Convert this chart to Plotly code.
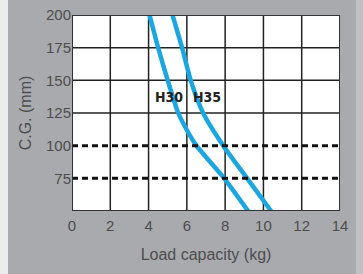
import plotly.graph_objects as go

# Data
h30_x = [4.05, 4.5, 5.0, 5.55, 6.0, 6.5, 7.95, 9.2]
h30_y = [200, 175, 150, 125, 112, 100, 75, 50]
h35_x = [5.25, 5.75, 6.2, 6.85, 7.9, 9.15, 10.4]
h35_y = [200, 175, 150, 125, 100, 75, 50]
solid_h = [125, 150, 175]
dotted_h = [75, 100]
vert_x = [2, 4, 6, 8, 10, 12]
x_ticks = [0, 2, 4, 6, 8, 10, 12, 14]
y_ticks = [75, 100, 125, 150, 175, 200]
labels = [("H30", 5.05, 137), ("H35", 7.05, 137)]

blue = "#1ca6df"
fig = go.Figure()
fig.add_trace(go.Scatter(x=h30_x, y=h30_y, mode="lines", line=dict(color=blue, width=4.5, shape="spline", smoothing=0.6), hoverinfo="skip"))
fig.add_trace(go.Scatter(x=h35_x, y=h35_y, mode="lines", line=dict(color=blue, width=4.5, shape="spline", smoothing=0.6), hoverinfo="skip"))

shapes = []
for v in vert_x:
    shapes.append(dict(type="line", xref="x", yref="y", x0=v, x1=v, y0=50, y1=200, line=dict(color="#222", width=1.5), layer="below"))
for h in solid_h:
    shapes.append(dict(type="line", xref="x", yref="y", x0=0, x1=14, y0=h, y1=h, line=dict(color="#222", width=1.5), layer="below"))
for h in dotted_h:
    shapes.append(dict(type="line", xref="x", yref="y", x0=0, x1=14, y0=h, y1=h, line=dict(color="#111", width=3, dash="6px,4px"), layer="above"))
shapes.append(dict(type="rect", xref="x", yref="y", x0=0, x1=14, y0=50, y1=200, line=dict(color="#333", width=2), layer="above"))
fig.update_layout(shapes=shapes)

for t, x, y in labels:
    fig.add_annotation(x=x, y=y, text="<b>%s</b>" % t, showarrow=False,
                       font=dict(family="Liberation Sans Narrow, DejaVu Sans Condensed", size=14, color="#222"))

fig.update_xaxes(range=[0, 14], tickvals=x_ticks, showgrid=False, zeroline=False, showline=False, automargin=False,
                 ticks="", ticklabelstandoff=4, tickfont=dict(family="Liberation Sans, Arial", size=15, color="#4d4d4d"),
                 title=dict(text="Load capacity (kg)", font=dict(family="Liberation Sans, Arial", size=16, color="#4d4d4d"), standoff=15))
fig.update_yaxes(range=[50, 200], tickvals=y_ticks, showgrid=False, zeroline=False, showline=False, automargin=False,
                 ticks="", tickfont=dict(family="Liberation Sans, Arial", size=15, color="#4d4d4d"),
                 title=dict(text="C.G. (mm)", font=dict(family="Liberation Sans, Arial", size=16, color="#4d4d4d"), standoff=10))
fig.update_layout(width=363, height=274, margin=dict(l=72, r=23, t=15, b=63),
                  paper_bgcolor="rgba(0,0,0,0)", plot_bgcolor="#ffffff", showlegend=False)
fig.write_html("out.html", config={"displayModeBar": False},
               post_script="document.body.style.margin='0';document.body.style.overflow='hidden';"
                           "document.body.style.background='linear-gradient(to right, #ececec 0px, #ececec 8px, #a9aaae 8px, #a9aaae 356px, #bfc0c3 356px)';")
